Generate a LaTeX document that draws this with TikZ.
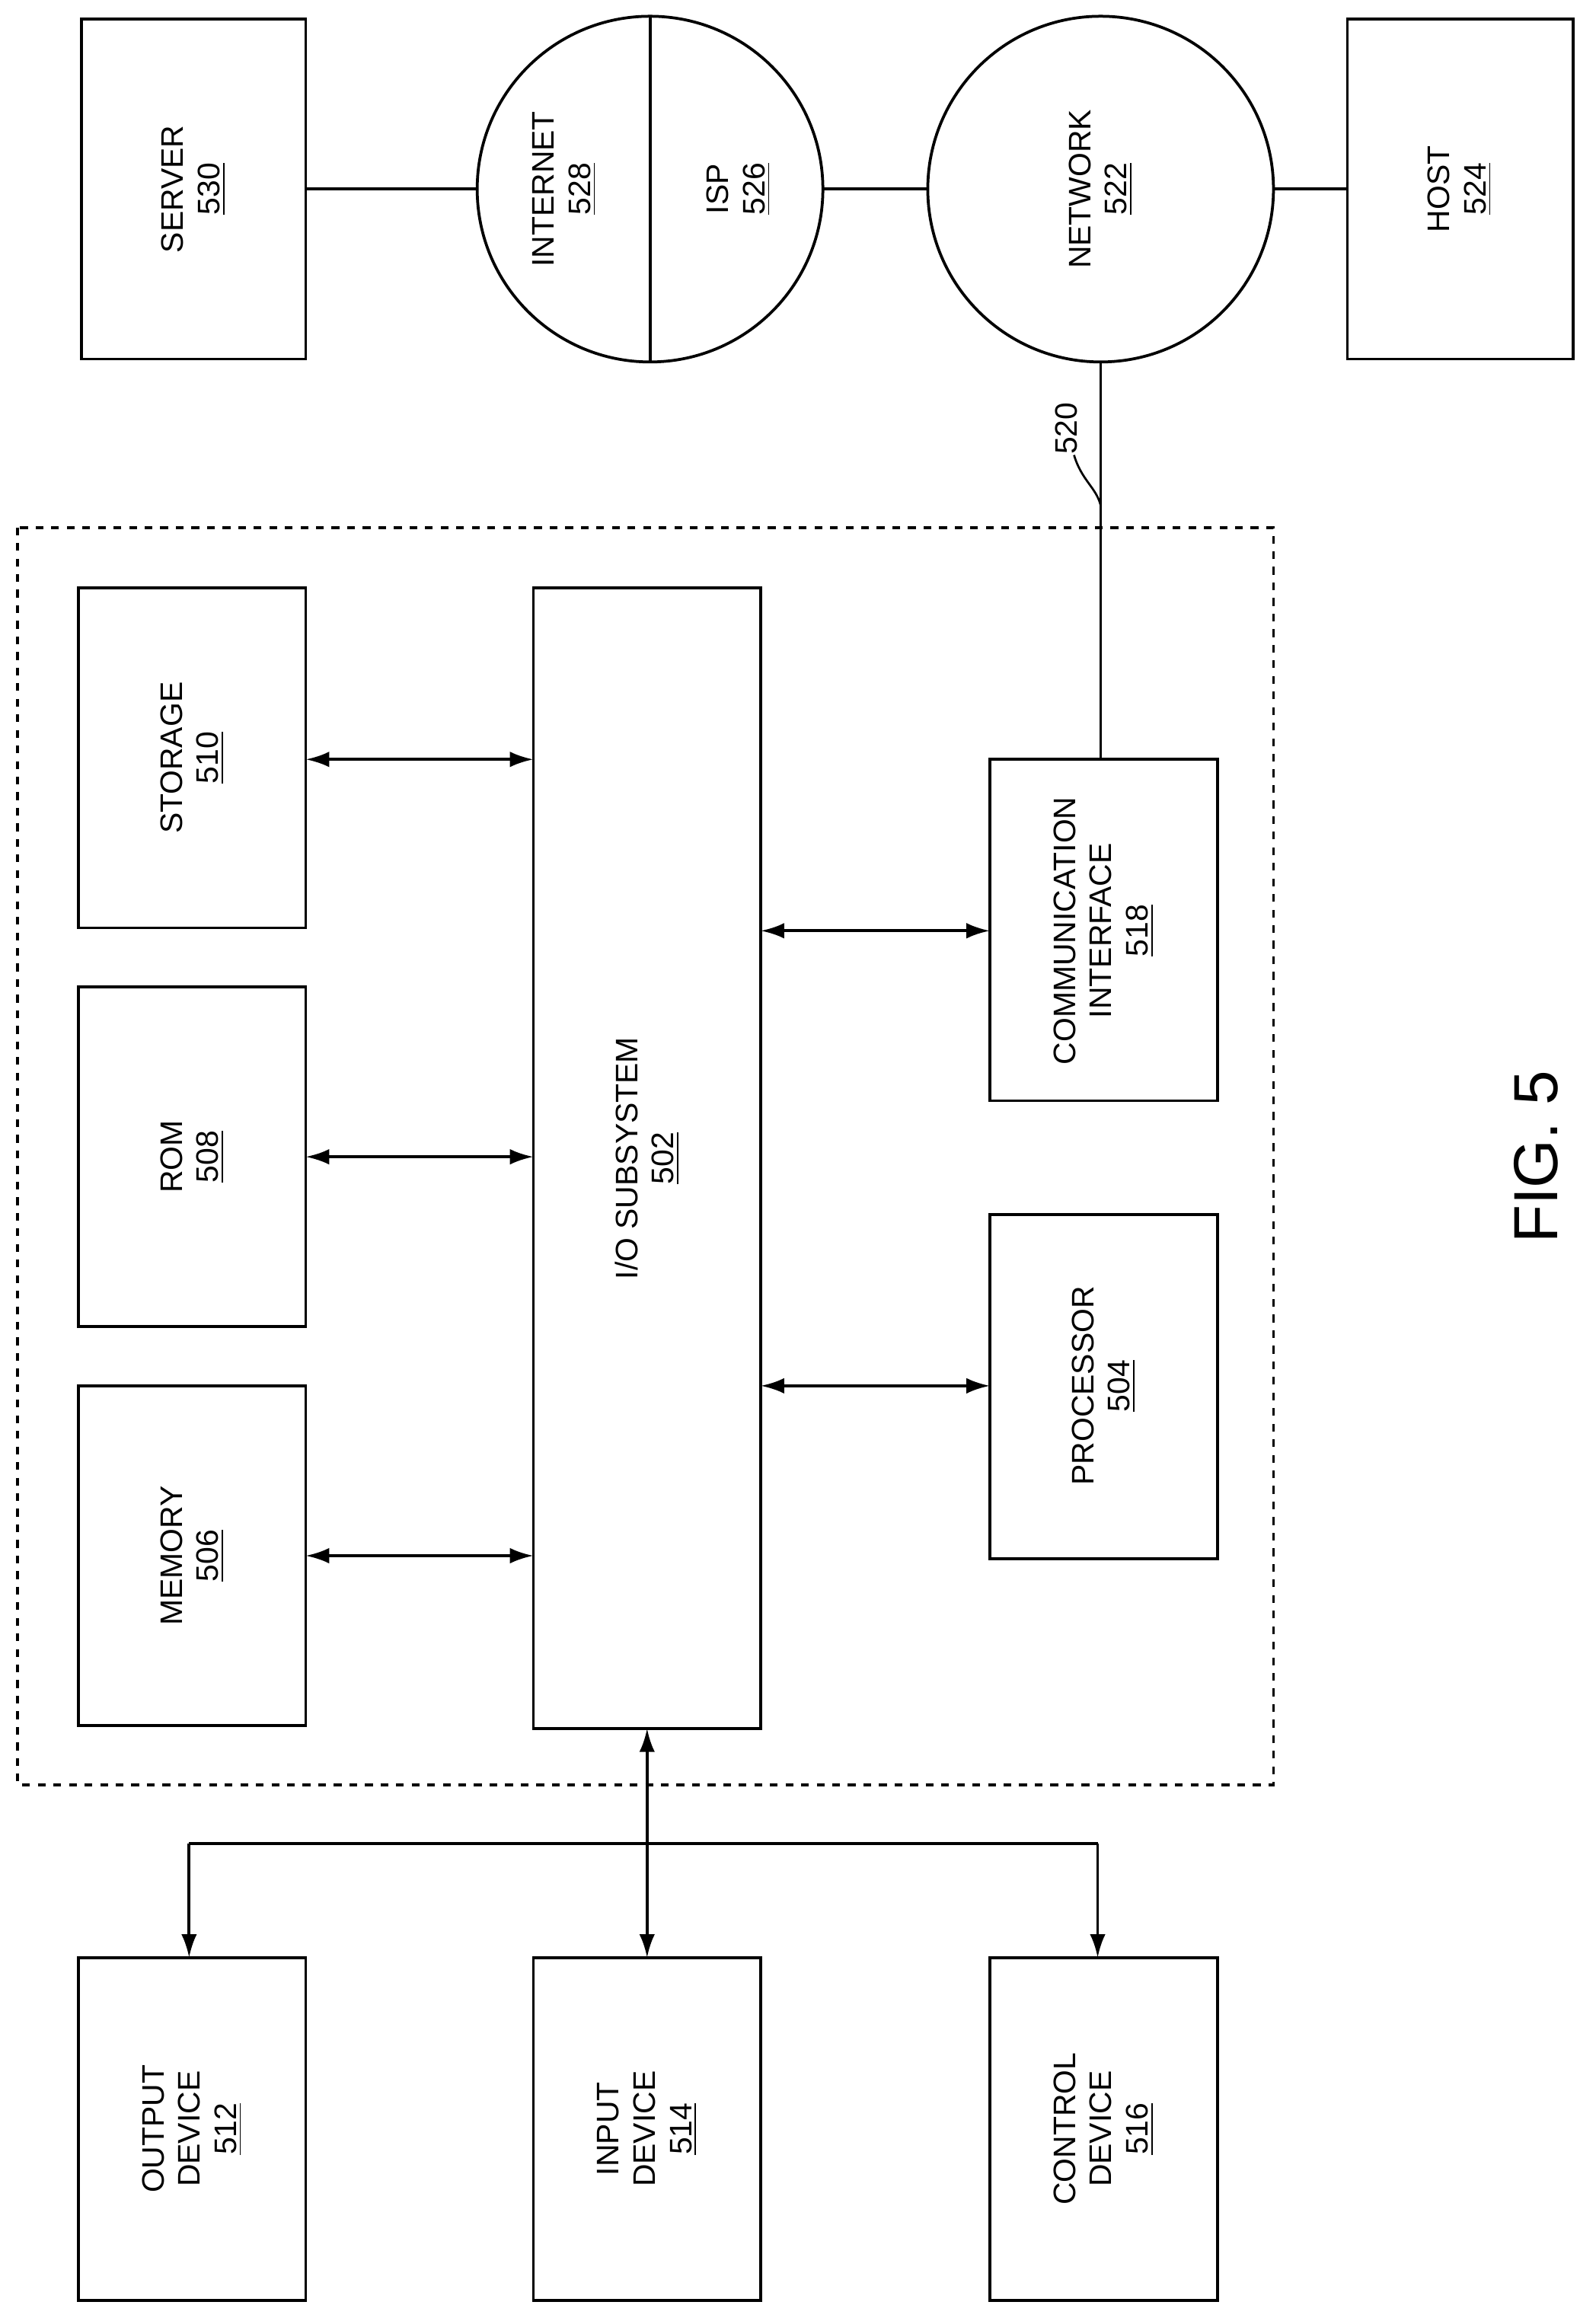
\documentclass[tikz,border=0pt]{standalone}
\usepackage{fontspec}
\setmainfont{Liberation Sans}
\usetikzlibrary{arrows.meta}
\begin{document}
\begin{tikzpicture}[x=0.2mm,y=-0.2mm,line width=1.1pt,
  box/.style={draw,inner sep=0pt},
  lbl/.style={rotate=90,align=center,font=\fontsize{12}{14}\selectfont},
  dbl/.style={{Latex[length=9pt,width=6pt]}-{Latex[length=9pt,width=6pt]}},
  sgl/.style={-{Latex[length=9pt,width=6pt]}}]
\useasboundingbox (0,0) rectangle (1080,1571);
% top row
\draw (55,13) rectangle (207,243);
\node[lbl] (server) at (131,128) {SERVER\\\underline{530}};
\coordinate (sr) at (207,128);
\draw (440,128) circle (117);
\draw (440,11) -- (440,245);
\node[lbl] (internet) at (382,128) {INTERNET\\\underline{528}};
\node[lbl] (isp) at (500,128) {ISP\\\underline{526}};
\coordinate (cl) at (323,128); \coordinate (cr) at (557,128);
\draw (745,128) circle (117);
\node[lbl] (network) at (745,128) {NETWORK\\\underline{522}};
\coordinate (nl) at (628,128); \coordinate (nr) at (862,128); \coordinate (nb) at (745,245);
\draw (912,13) rectangle (1065,243);
\node[lbl] (host) at (988,128) {HOST\\\underline{524}};
\coordinate (hl) at (912,128);
\draw (sr) -- (cl); \draw (cr) -- (nl); \draw (nr) -- (hl);
% dashed box
\draw[dashed] (12,357) rectangle (862,1208);
% left column
\draw (53,398) rectangle (207,628); \node[lbl] (storage) at (130,513) {STORAGE\\\underline{510}};
\draw (53,668) rectangle (207,898); \node[lbl] (rom) at (130,783) {ROM\\\underline{508}};
\draw (53,938) rectangle (207,1168); \node[lbl] (memory) at (130,1053) {MEMORY\\\underline{506}};
\draw (361,398) rectangle (515,1170); \node[lbl] (io) at (438,784) {I/O SUBSYSTEM\\\underline{502}};
\draw (670,514) rectangle (824,745); \node[lbl] (comm) at (747,630) {COMMUNICATION\\INTERFACE\\\underline{518}};
\draw (670,822) rectangle (824,1055); \node[lbl] (proc) at (747,938) {PROCESSOR\\\underline{504}};
\draw[dbl] (207,514) -- (361,514);
\draw[dbl] (207,783) -- (361,783);
\draw[dbl] (207,1053) -- (361,1053);
\draw[dbl] (515,630) -- (670,630);
\draw[dbl] (515,938) -- (670,938);
% link 520
\coordinate (ct) at (745,514);
\draw (nb) -- (ct);
\node[rotate=90,font=\fontsize{12}{14}\selectfont] (l520) at (722,290) {520};
\draw[line width=0.8pt] (727,308) .. controls (732,325) and (742,330) .. (745,342);
% bottom
\draw (53,1325) rectangle (207,1557); \node[lbl] (out) at (130,1441) {OUTPUT\\DEVICE\\\underline{512}};
\draw (361,1325) rectangle (515,1557); \node[lbl] (in) at (438,1441) {INPUT\\DEVICE\\\underline{514}};
\draw (670,1325) rectangle (824,1557); \node[lbl] (ctl) at (747,1441) {CONTROL\\DEVICE\\\underline{516}};
\draw[dbl] (438,1170) -- (438,1325);
\draw[sgl] (128,1248) -- (128,1325);
\draw[sgl] (743,1248) -- (743,1325);
\draw (128,1248) -- (743,1248);
\node[rotate=90,font=\fontsize{24}{28}\selectfont] (fig) at (1040,783) {FIG. 5};
\end{tikzpicture}
\end{document}
